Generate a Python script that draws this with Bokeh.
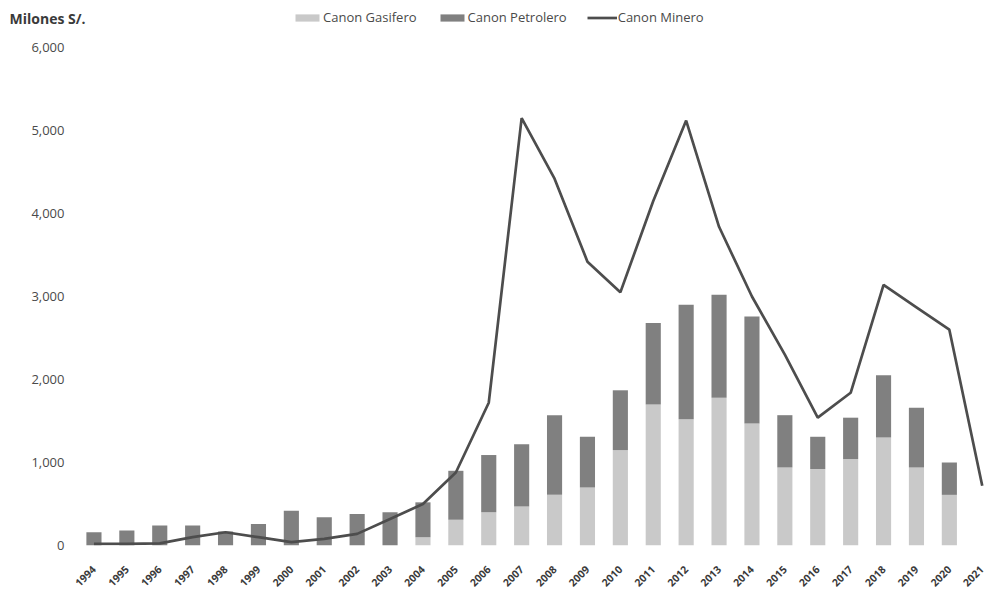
import math
from bokeh.plotting import figure
from bokeh.models import (ColumnDataSource, FixedTicker, Legend, LegendItem, LinearAxis,
                          NumeralTickFormatter, Range1d)
from bokeh.embed import file_html
from bokeh.resources import INLINE

years = list(range(1994, 2022))
year_labels = [str(y) for y in years]
gasifero = [0, 0, 0, 0, 0, 0, 0, 0, 0, 0, 100, 310, 400, 470, 610, 700, 1150, 1700,
            1520, 1780, 1470, 940, 920, 1040, 1300, 940, 610, 0]
petrolero = [160, 180, 240, 240, 170, 260, 420, 340, 380, 400, 420, 590, 690, 750, 960,
             610, 720, 980, 1380, 1240, 1290, 630, 390, 500, 750, 720, 390, 0]
minero = [20, 20, 25, 100, 160, 100, 40, 80, 140, 320, 500, 880, 1720, 5150, 4420, 3420,
          3050, 4150, 5120, 3840, 3000, 2300, 1540, 1840, 3140, 2870, 2600, 720]
y_ticks = [0, 1000, 2000, 3000, 4000, 5000, 6000]
unit_label = "Milones S/."

FONT = "Open Sans"
C_GAS = "#c9c9c9"
C_PET = "#808080"
C_MIN = "#4d4d4d"
C_TXT = "#4a4a4a"

W, H = 984, 598
FRAME_BOTTOM, FRAME_LEFT = 545, 77
PX_PER_UNIT = 498 / 6000                      # 6,000 sits 47px below the top
Y_END = 6000 + 47 / PX_PER_UNIT
UNIT_POS = (FRAME_BOTTOM - 18) / PX_PER_UNIT  # row of the unit text and legend
X_START = 1993.5
X_END = X_START + (W - FRAME_LEFT) / 32.9

src = ColumnDataSource(dict(year=years, gas=gasifero, pet=petrolero, minero=minero))

p = figure(width=W, height=H, output_backend="svg", toolbar_location=None,
           x_range=Range1d(X_START, X_END), y_range=Range1d(0, Y_END),
           min_border_left=FRAME_LEFT, min_border_right=0, min_border_top=0,
           min_border_bottom=H - FRAME_BOTTOM)
p.outline_line_color = None
p.xgrid.grid_line_color = None
p.ygrid.grid_line_color = None

bars = p.vbar_stack(["gas", "pet"], x="year", width=0.46, source=src,
                    color=[C_GAS, C_PET], line_color=None)
line = p.line("year", "minero", source=src, line_color=C_MIN, line_width=2.7)

p.xaxis.ticker = FixedTicker(ticks=years)
p.xaxis.major_label_overrides = {y: l for y, l in zip(years, year_labels)}
p.xaxis.major_label_orientation = math.pi / 4
p.xaxis.axis_line_color = None
p.xaxis.major_tick_line_color = None
p.xaxis.minor_tick_line_color = None
p.xaxis.major_label_text_font = FONT
p.xaxis.major_label_text_font_size = "10.5px"
p.xaxis.major_label_text_font_style = "bold"
p.xaxis.major_label_text_color = "#3a3a3a"
p.xaxis.major_label_standoff = 16

p.yaxis.ticker = FixedTicker(ticks=y_ticks)
p.yaxis.formatter = NumeralTickFormatter(format="0,0")
p.yaxis.axis_line_color = None
p.yaxis.major_tick_line_color = None
p.yaxis.minor_tick_line_color = None
p.yaxis.major_tick_out = 0
p.yaxis.minor_tick_out = 0
p.yaxis.major_label_text_font = FONT
p.yaxis.major_label_text_font_size = "13px"
p.yaxis.major_label_text_color = C_TXT
p.yaxis.major_label_standoff = 13

# unit caption, carried by an outer left axis with a single tick at the top row
unit_axis = LinearAxis(ticker=FixedTicker(ticks=[UNIT_POS]),
                       major_label_overrides={UNIT_POS: unit_label},
                       axis_line_color=None, major_tick_line_color=None,
                       minor_tick_line_color=None, major_tick_out=0, minor_tick_out=0,
                       major_label_standoff=-57,
                       major_label_text_font=FONT, major_label_text_font_size="14px",
                       major_label_text_font_style="bold",
                       major_label_text_color="#3a3a3a")
p.add_layout(unit_axis, "left")

legend = Legend(items=[LegendItem(label="Canon Gasifero", renderers=[bars[0]]),
                       LegendItem(label="Canon Petrolero", renderers=[bars[1]]),
                       LegendItem(label="Canon Minero", renderers=[line])],
                orientation="horizontal", location=(292 - FRAME_LEFT, FRAME_BOTTOM - 26),
                glyph_width=30, glyph_height=9, label_standoff=1, spacing=20,
                label_height=16, padding=0, margin=0, border_line_color=None,
                background_fill_alpha=0, label_text_font=FONT,
                label_text_font_size="13px", label_text_color=C_TXT)
p.add_layout(legend)

open("out.html", "w").write(file_html(p, INLINE))
